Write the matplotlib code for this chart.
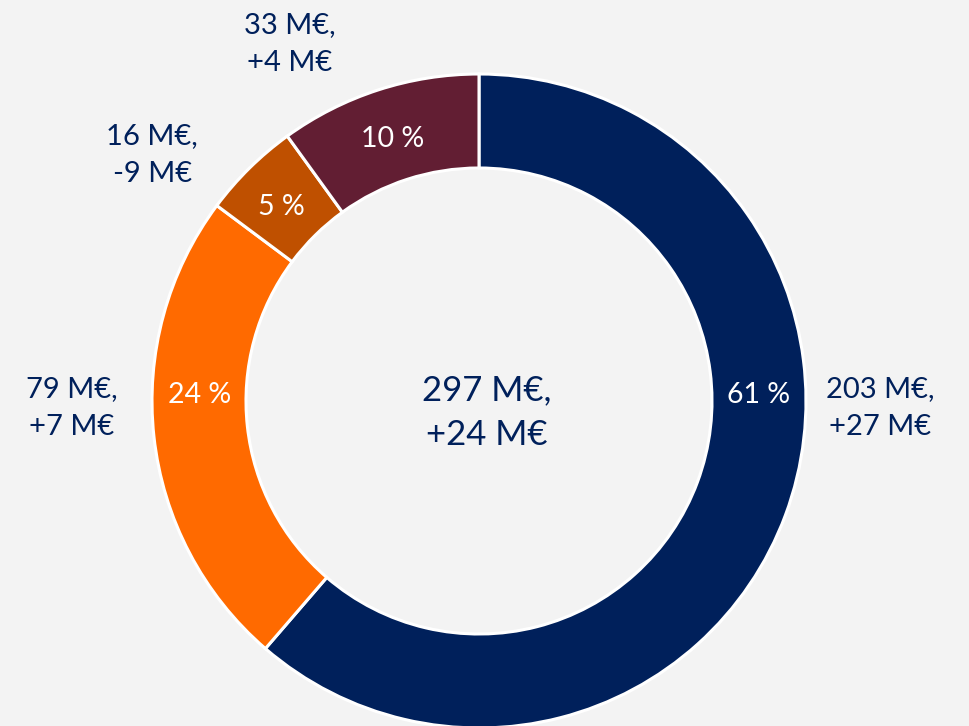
import numpy as np
import matplotlib
matplotlib.use("Agg")
import matplotlib.pyplot as plt

# segment values (M€), shown clockwise from the top
values = [203, 79, 16, 33]
changes = ["+27", "+7", "-9", "+4"]
colors = ["#00205B", "#FF6A00", "#BF5000", "#621E33"]
total_text = "297 M€,\n+24 M€"

# label angles (deg) for the inside % labels and outside value labels
pct_angles = [2, 178, 135, 108]
out_angles = [-1, 181, 143, 118]
out_radius = [401, 407, 409, 404]

bg = "#F3F3F3"
navy = "#00205B"
plt.rcParams['font.family'] = ['Lato', 'DejaVu Sans']

fig = plt.figure(figsize=(9.7, 7.26), dpi=100, facecolor=bg)
ax = fig.add_axes([0, 0, 1, 1])
ax.set_facecolor(bg)

cx, cy = 479, 325
R = 327
ring = 94

ax.pie(values, colors=colors, startangle=90, counterclock=False,
       center=(cx, cy), radius=R, frame=True,
       wedgeprops=dict(width=ring, edgecolor="white", linewidth=2.2))
ax.set_xlim(0, 970)
ax.set_ylim(0, 726)
ax.set_aspect("equal")
ax.axis("off")

total = sum(values)
rmid = R - ring / 2
for v, ch, a, ao, ro in zip(values, changes, pct_angles, out_angles, out_radius):
    pct = round(100 * v / total)
    t = np.deg2rad(a)
    ax.text(cx + rmid * np.cos(t), cy + rmid * np.sin(t) - 4, f"{pct} %",
            color="white", fontsize=20.5, ha="center", va="center")
    to = np.deg2rad(ao)
    ax.text(cx + ro * np.cos(to), cy + ro * np.sin(to), f"{v} M€,\n{ch} M€",
            color=navy, fontsize=21, ha="center", va="center",
            linespacing=1.55)

ax.text(cx + 8, cy - 12, total_text, color=navy, fontsize=25,
        ha="center", va="center", linespacing=1.5)

fig.savefig("out.png", dpi=100, facecolor=bg)
